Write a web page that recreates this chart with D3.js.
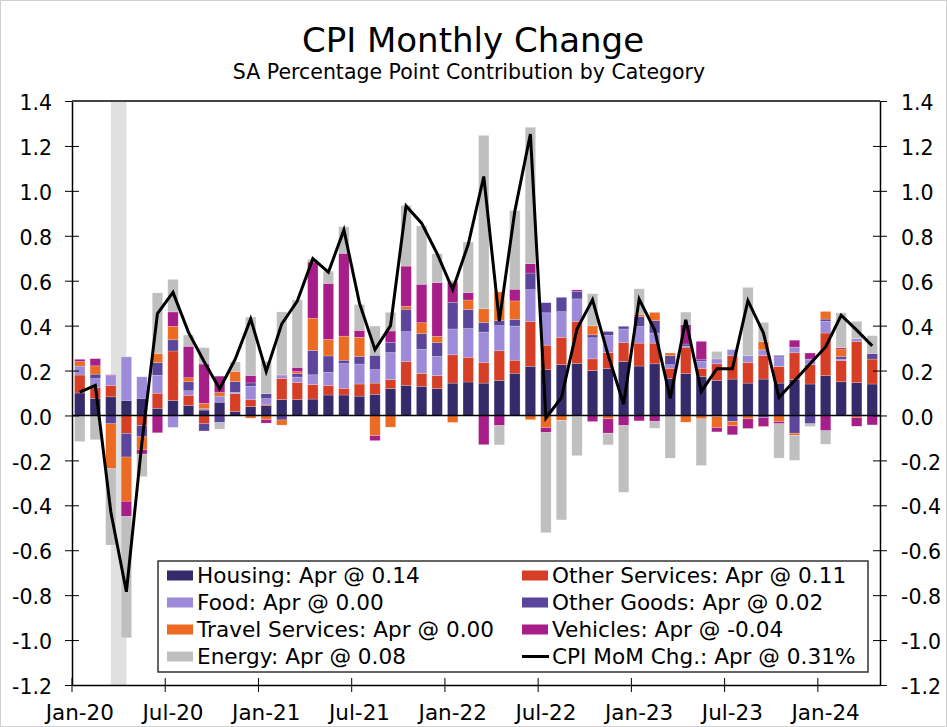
<!DOCTYPE html>
<html>
<head>
<meta charset="utf-8">
<script src="https://cdn.jsdelivr.net/npm/d3@7"></script>
<style>
  body { margin: 0; background: #fff; }
  text { font-family: "DejaVu Sans", Verdana, sans-serif; fill: #000; }
</style>
</head>
<body>
<svg id="chart" width="947" height="727"></svg>
<script>
// --- データ (Jan-20 .. Apr-24, 寄与度 %pt) ---
const months = [
  "Jan-20","Feb-20","Mar-20","Apr-20","May-20","Jun-20","Jul-20","Aug-20","Sep-20","Oct-20","Nov-20","Dec-20",
  "Jan-21","Feb-21","Mar-21","Apr-21","May-21","Jun-21","Jul-21","Aug-21","Sep-21","Oct-21","Nov-21","Dec-21",
  "Jan-22","Feb-22","Mar-22","Apr-22","May-22","Jun-22","Jul-22","Aug-22","Sep-22","Oct-22","Nov-22","Dec-22",
  "Jan-23","Feb-23","Mar-23","Apr-23","May-23","Jun-23","Jul-23","Aug-23","Sep-23","Oct-23","Nov-23","Dec-23",
  "Jan-24","Feb-24","Mar-24","Apr-24"
];

const housing = [
  0.100, 0.076, 0.083, 0.067, 0.076, 0.032, 0.067, 0.045, 0.024, 0.059, 0.018, 0.040,
  0.045, 0.071, 0.071, 0.073, 0.091, 0.091, 0.086, 0.094, 0.120, 0.134, 0.130, 0.120,
  0.144, 0.149, 0.144, 0.156, 0.188, 0.219, 0.204, 0.226, 0.232, 0.200, 0.209, 0.240,
  0.220, 0.230, 0.165, 0.187, 0.174, 0.156, 0.162, 0.144, 0.162, 0.144, 0.159, 0.140,
  0.178, 0.150, 0.147, 0.140
];
const otherServices = [
  0.080, 0.048, 0.051, -0.080, -0.045, 0.067, 0.220, 0.045, -0.037, 0.000, 0.079, 0.030,
  0.005, 0.094, 0.076, 0.065, 0.043, 0.030, 0.054, 0.050, 0.040, 0.107, 0.057, 0.058,
  0.126, 0.110, 0.092, 0.132, 0.058, 0.200, 0.109, 0.122, 0.187, 0.052, 0.071, 0.085,
  0.102, 0.092, 0.045, 0.117, 0.036, 0.074, 0.104, 0.092, 0.105, 0.074, 0.120, 0.086,
  0.189, 0.095, 0.183, 0.111
];
const food = [
  0.040, 0.040, 0.044, 0.194, 0.096, 0.080, -0.053, 0.020, 0.006, 0.027, 0.006, 0.060,
  0.025, 0.013, 0.024, 0.043, 0.058, 0.110, 0.089, 0.060, 0.120, 0.132, 0.107, 0.085,
  0.115, 0.128, 0.135, 0.112, 0.152, 0.141, 0.144, 0.114, 0.100, 0.094, 0.076, 0.060,
  0.074, 0.045, 0.016, 0.005, 0.031, 0.022, 0.027, 0.031, 0.025, 0.043, 0.025, 0.025,
  0.052, 0.006, 0.012, 0.000
];
const otherGoods = [
  0.000, 0.020, -0.037, -0.105, -0.050, 0.057, 0.050, 0.040, -0.032, -0.032, 0.048, 0.015,
  0.022, -0.020, 0.015, 0.109, 0.073, 0.015, 0.034, 0.064, 0.046, 0.100, 0.070, 0.062,
  0.119, 0.085, 0.043, 0.022, 0.030, 0.074, 0.045, 0.064, 0.033, 0.013, 0.018, 0.012,
  0.045, 0.055, 0.040, 0.009, 0.007, -0.005, -0.027, 0.000, -0.009, 0.006, -0.079, -0.037,
  0.010, 0.012, 0.000, 0.024
];
const travel = [
  0.020, 0.037, -0.200, -0.197, -0.057, 0.040, 0.060, 0.018, 0.024, 0.016, 0.045, -0.012,
  -0.019, -0.023, 0.009, 0.143, 0.074, 0.107, 0.085, -0.090, -0.052, 0.013, 0.049, 0.027,
  -0.031, 0.042, 0.061, 0.128, 0.082, -0.019, -0.054, -0.022, -0.004, 0.040, -0.015, 0.000,
  0.009, 0.037, 0.012, -0.030, -0.015, -0.049, -0.019, -0.015, 0.037, -0.027, -0.010, 0.000,
  0.034, 0.033, -0.009, 0.000
];
const vehicles = [
  0.010, 0.032, 0.003, -0.068, -0.020, -0.077, 0.064, 0.140, 0.175, 0.073, 0.000, 0.033,
  -0.015, 0.003, 0.019, 0.250, 0.249, 0.369, 0.031, -0.022, 0.050, 0.179, 0.171, 0.240,
  0.089, 0.033, -0.130, -0.045, 0.052, 0.042, -0.022, 0.000, 0.007, -0.027, -0.064, -0.045,
  -0.024, -0.027, 0.000, 0.086, 0.082, -0.019, -0.040, -0.043, -0.040, -0.010, 0.031, 0.027,
  -0.068, 0.006, -0.039, -0.042
];
const energy = [
  -0.116, -0.108, -0.340, -0.540, -0.100, 0.270, 0.145, 0.050, 0.073, -0.029, 0.042, 0.260,
  0.144, 0.280, 0.300, 0.012, 0.054, 0.118, 0.115, 0.130, 0.083, 0.270, 0.260, 0.128,
  0.008, 0.225, 0.772, -0.086, 0.350, 0.607, -0.446, -0.443, -0.175, 0.143, -0.052, -0.297,
  0.114, -0.030, -0.190, 0.056, -0.208, 0.033, 0.000, 0.303, 0.085, -0.153, -0.111, -0.012,
  -0.060, 0.155, 0.077, 0.080
];
const cpiMoM = [
  0.104, 0.134, -0.430, -0.785, -0.120, 0.454, 0.548, 0.370, 0.240, 0.118, 0.250, 0.430,
  0.196, 0.408, 0.509, 0.698, 0.638, 0.826, 0.500, 0.293, 0.400, 0.933, 0.856, 0.720,
  0.560, 0.762, 1.064, 0.420, 0.910, 1.253, -0.012, 0.080, 0.385, 0.515, 0.270, 0.050,
  0.518, 0.380, 0.077, 0.426, 0.107, 0.208, 0.208, 0.511, 0.367, 0.080, 0.155, 0.230,
  0.305, 0.446, 0.380, 0.310
];

const seriesKeys = ["housing", "otherServices", "food", "otherGoods", "travel", "vehicles", "energy"];
const seriesNames = ["Housing", "Other Services", "Food", "Other Goods", "Travel Services", "Vehicles", "Energy"];
const seriesColors = ["#372a6b", "#d73e26", "#9d8bd9", "#5b469c", "#ec6a21", "#a81e88", "#bfbfbf"];
const lineName = "CPI MoM Chg.";

const recession = ["Mar-20", "Apr-20"];
const xTickLabels = ["Jan-20", "Jul-20", "Jan-21", "Jul-21", "Jan-22", "Jul-22", "Jan-23", "Jul-23", "Jan-24"];
const yTicks = [-1.2, -1.0, -0.8, -0.6, -0.4, -0.2, 0.0, 0.2, 0.4, 0.6, 0.8, 1.0, 1.2, 1.4];

// --- テーブル構築 ---
const seriesData = { housing, otherServices, food, otherGoods, travel, vehicles, energy };
const rows = months.map((m, i) => {
  const r = { month: m };
  seriesKeys.forEach(k => r[k] = seriesData[k][i]);
  return r;
});

// --- 描画 ---
const svg = d3.select("#chart");
const W = 947, H = 727;
const plotL = 72, plotR = 880, plotT = 101, plotB = 685;

const x = d3.scaleBand().domain(months).range([plotL, plotR]).paddingInner(0.33).paddingOuter(0.165);
const y = d3.scaleLinear().domain([-1.2, 1.4]).range([plotB, plotT]);
const bw = x.bandwidth();
const cx = m => x(m) + bw / 2;

// 外枠
svg.append("rect").attr("x", 0.5).attr("y", 0.5).attr("width", W - 1).attr("height", H - 1)
  .attr("fill", "#fff").attr("stroke", "#d0d0d0");

// 景気後退期
svg.append("rect")
  .attr("x", cx(recession[0])).attr("width", cx(recession[1]) - cx(recession[0]))
  .attr("y", plotT).attr("height", plotB - plotT)
  .attr("fill", "#e0e0e0");

// 積み上げ棒
const stacked = d3.stack().keys(seriesKeys).offset(d3.stackOffsetDiverging)(rows);
svg.append("g").selectAll("g").data(stacked).enter().append("g")
  .attr("fill", (d, i) => seriesColors[i])
  .selectAll("rect").data(d => d).enter().append("rect")
  .attr("x", d => x(d.data.month))
  .attr("width", bw)
  .attr("y", d => y(d[1]))
  .attr("height", d => Math.max(0, y(d[0]) - y(d[1])))
  .attr("stroke", "#fff").attr("stroke-opacity", 0.35).attr("stroke-width", 0.6);

// ゼロ線
svg.append("line").attr("x1", plotL).attr("x2", plotR).attr("y1", y(0)).attr("y2", y(0))
  .attr("stroke", "#000").attr("stroke-width", 1.5);

// CPI ライン
const line = d3.line().x((d, i) => cx(months[i])).y(d => y(d));
svg.append("path").datum(cpiMoM)
  .attr("d", line)
  .attr("fill", "none").attr("stroke", "#000").attr("stroke-width", 3)
  .attr("stroke-linejoin", "miter");

// 軸
const fmt = d => d.toFixed(1);
const yl = svg.append("g").attr("transform", `translate(${plotL},0)`)
  .call(d3.axisLeft(y).tickValues(yTicks).tickFormat(fmt).tickSize(7).tickSizeOuter(0).tickPadding(13));
yl.selectAll(".tick line").attr("x1", -7).attr("x2", 7);

const yr = svg.append("g").attr("transform", `translate(${plotR},0)`)
  .call(d3.axisRight(y).tickValues(yTicks).tickFormat(fmt).tickSize(7).tickSizeOuter(0).tickPadding(14));
yr.selectAll(".tick line").attr("x1", -7).attr("x2", 7);

[yl, yr].forEach(g => {
  g.selectAll("text").attr("font-size", 20.5).attr("dy", "0.42em");
  g.select(".domain").attr("stroke-width", 1.5);
});

const xa = svg.append("g").attr("transform", `translate(0,${plotB})`)
  .call(d3.axisBottom(x).tickValues(xTickLabels).tickSize(7).tickSizeOuter(0).tickPadding(13));
xa.selectAll(".tick line")
  .attr("x1", -x.step() / 2).attr("x2", -x.step() / 2)
  .attr("y1", -7).attr("y2", 7);
xa.selectAll("text").attr("font-size", 21.5);
xa.select(".domain").attr("stroke-width", 1.5);

// 上枠
svg.append("line").attr("x1", plotL).attr("x2", plotR).attr("y1", plotT).attr("y2", plotT)
  .attr("stroke", "#444").attr("stroke-width", 2);

// タイトル
svg.append("text").attr("x", 473).attr("y", 52).attr("text-anchor", "middle")
  .attr("font-size", 34).text("CPI Monthly Change");
svg.append("text").attr("x", 469).attr("y", 79).attr("text-anchor", "middle")
  .attr("font-size", 20.5).text("SA Percentage Point Contribution by Category");

// 凡例
const last = months.length - 1;
const mon = months[last].slice(0, 3);
const legend = svg.append("g");
legend.append("rect").attr("x", 158).attr("y", 561).attr("width", 710).attr("height", 111)
  .attr("fill", "#fff").attr("stroke", "#333").attr("stroke-width", 1.5);

const items = seriesKeys.map((k, i) => ({
  name: seriesNames[i], color: seriesColors[i],
  label: `${seriesNames[i]}: ${mon} @ ${seriesData[k][last].toFixed(2)}`
}));
items.push({ name: lineName, color: null, label: `${lineName}: ${mon} @ ${cpiMoM[last].toFixed(2)}%` });

items.forEach((it, i) => {
  const col = i % 2, row = Math.floor(i / 2);
  const lx = col === 0 ? 167 : 522;
  const ly = 575.5 + row * 27;
  if (it.color) {
    legend.append("rect").attr("x", lx).attr("y", ly - 5).attr("width", 26).attr("height", 10)
      .attr("fill", it.color);
  } else {
    legend.append("line").attr("x1", lx).attr("x2", lx + 27).attr("y1", ly).attr("y2", ly)
      .attr("stroke", "#000").attr("stroke-width", 3);
  }
  legend.append("text").attr("x", lx + 30).attr("y", ly + 7.5)
    .attr("font-size", 21.6).text(it.label);
});
</script>
</body>
</html>
